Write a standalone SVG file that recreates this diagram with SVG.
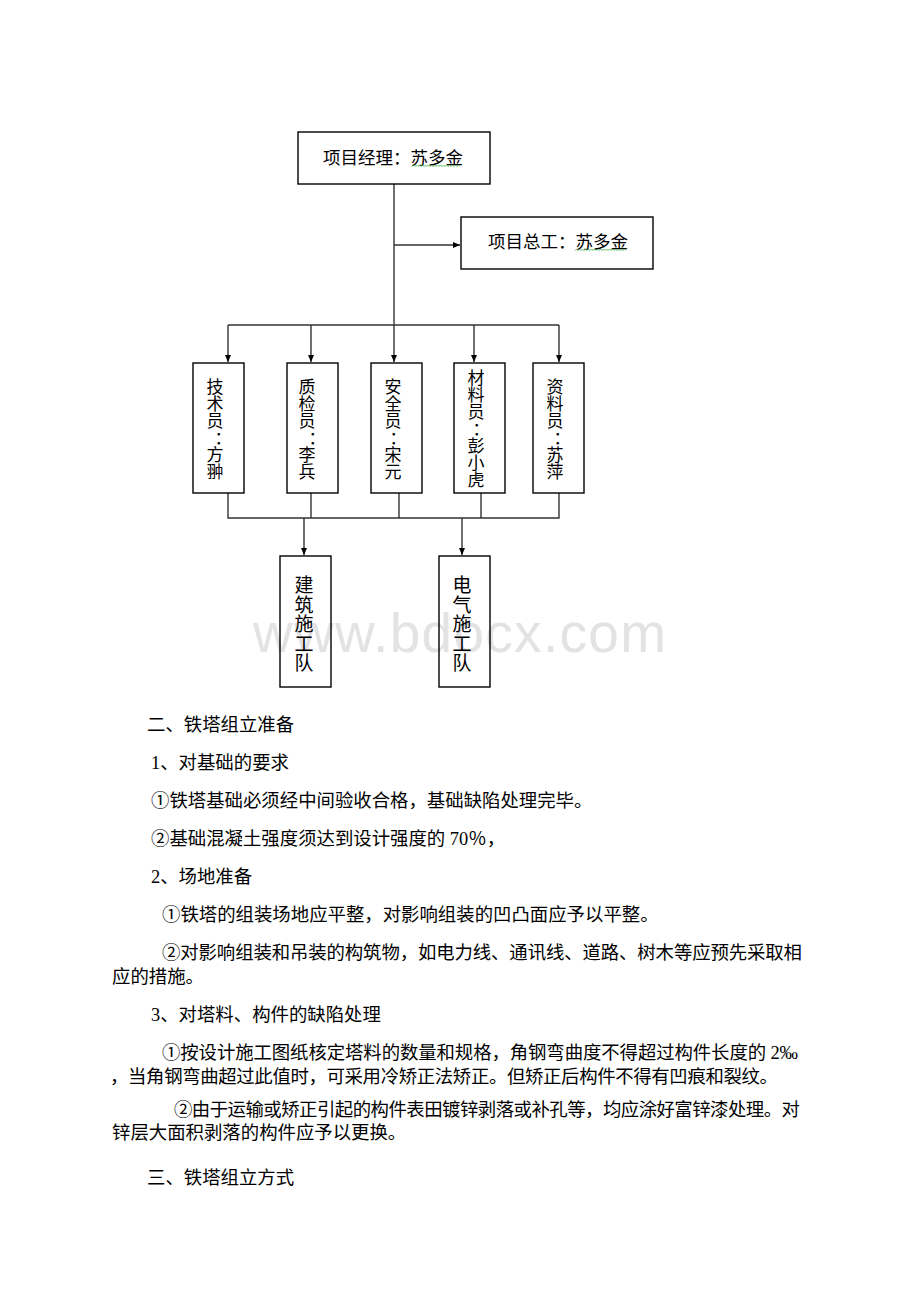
<svg xmlns="http://www.w3.org/2000/svg" width="920" height="1302" viewBox="0 0 920 1302">
  <style>
    .box { fill: none; stroke: #000; stroke-width: 1.4; }
    .lbl { font-family: "Noto Sans CJK SC", "Liberation Sans", sans-serif; fill: #000; }
    .h { font-size: 17.5px; text-anchor: middle; }
    .v { font-size: 17px; text-anchor: middle; }
    .vt { font-size: 19px; text-anchor: middle; }
    .conn { fill: none; stroke: #333; stroke-width: 1.4; }
    .body { font-family: "Liberation Serif", "Noto Sans CJK SC", serif; font-size: 18.4px; fill: #000; }
    .sq { fill: none; stroke: #5cb85c; stroke-width: 1; }
    .wm { font-family: "Liberation Sans", Arial, sans-serif; font-size: 55px; fill: #e3e3e3; }
  </style>
  <defs>
    <marker id="arr" markerUnits="userSpaceOnUse" markerWidth="7" markerHeight="6" refX="7" refY="3" orient="auto">
      <path d="M0,0 L7,3 L0,6 z" fill="#000"/>
    </marker>
  </defs>

  <rect width="920" height="1302" fill="#fff"/>

  <text class="wm" x="253" y="652" textLength="413" lengthAdjust="spacing">www.bdocx.com</text>

  <g id="connectors">
    <path class="conn" d="M394,184 V362" marker-end="url(#arr)"/>
    <path class="conn" d="M394,245 H460" marker-end="url(#arr)"/>
    <path class="conn" d="M228,325 H559"/>
    <path class="conn" d="M228,325 V362" marker-end="url(#arr)"/>
    <path class="conn" d="M311,325 V362" marker-end="url(#arr)"/>
    <path class="conn" d="M474,325 V362" marker-end="url(#arr)"/>
    <path class="conn" d="M559,325 V362" marker-end="url(#arr)"/>
    <path class="conn" d="M228,493 V518 H559 V493"/>
    <path class="conn" d="M311,493 V518"/>
    <path class="conn" d="M399,493 V518"/>
    <path class="conn" d="M481,493 V518"/>
    <path class="conn" d="M304,518 V555" marker-end="url(#arr)"/>
    <path class="conn" d="M462,518 V555" marker-end="url(#arr)"/>
  </g>

  <g id="manager">
    <rect class="box" x="298" y="132" width="192" height="52"/>
    <text class="lbl h" x="393" y="164">项目经理：苏多金</text>
    <path class="sq" d="M412,166.5 l1.5,-1.5 l1.5,1.5 l1.5,-1.5 l1.5,1.5 l1.5,-1.5 l1.5,1.5 l1.5,-1.5 l1.5,1.5 l1.5,-1.5 l1.5,1.5 l1.5,-1.5 l1.5,1.5 l1.5,-1.5 l1.5,1.5 l1.5,-1.5 l1.5,1.5 l1.5,-1.5 l1.5,1.5 l1.5,-1.5 l1.5,1.5 l1.5,-1.5 l1.5,1.5 l1.5,-1.5 l1.5,1.5 l1.5,-1.5 l1.5,1.5 l1.5,-1.5 l1.5,1.5 l1.5,-1.5 l1.5,1.5 l1.5,-1.5 l1.5,1.5"/>
  </g>

  <g id="chief-engineer">
    <rect class="box" x="461" y="217" width="192" height="52"/>
    <text class="lbl h" x="558" y="248">项目总工：苏多金</text>
    <path class="sq" d="M575,250.5 l1.5,-1.5 l1.5,1.5 l1.5,-1.5 l1.5,1.5 l1.5,-1.5 l1.5,1.5 l1.5,-1.5 l1.5,1.5 l1.5,-1.5 l1.5,1.5 l1.5,-1.5 l1.5,1.5 l1.5,-1.5 l1.5,1.5 l1.5,-1.5 l1.5,1.5 l1.5,-1.5 l1.5,1.5 l1.5,-1.5 l1.5,1.5 l1.5,-1.5 l1.5,1.5 l1.5,-1.5 l1.5,1.5 l1.5,-1.5 l1.5,1.5 l1.5,-1.5 l1.5,1.5 l1.5,-1.5 l1.5,1.5 l1.5,-1.5 l1.5,1.5 l1.5,-1.5 l1.5,1.5"/>
  </g>

  <g id="technician">
    <rect class="box" x="193" y="363" width="51" height="130"/>
    <text class="lbl v"><tspan x="215" y="393">技</tspan><tspan x="215" y="410">术</tspan><tspan x="215" y="427">员</tspan><tspan x="223" y="444">：</tspan><tspan x="215" y="461">方</tspan><tspan x="215" y="478">翀</tspan></text>
  </g>

  <g id="inspector">
    <rect class="box" x="287" y="363" width="51" height="130"/>
    <text class="lbl v"><tspan x="307" y="393">质</tspan><tspan x="307" y="410">检</tspan><tspan x="307" y="427">员</tspan><tspan x="317" y="444">：</tspan><tspan x="307" y="461">李</tspan><tspan x="307" y="478">兵</tspan></text>
  </g>

  <g id="safety">
    <rect class="box" x="371" y="363" width="51" height="130"/>
    <text class="lbl v"><tspan x="393" y="393">安</tspan><tspan x="393" y="410">全</tspan><tspan x="393" y="427">员</tspan><tspan x="398" y="444">：</tspan><tspan x="393" y="461">宋</tspan><tspan x="393" y="478">元</tspan></text>
  </g>

  <g id="materials">
    <rect class="box" x="454" y="363" width="51" height="130"/>
    <text class="lbl v"><tspan x="476" y="384">材</tspan><tspan x="476" y="401">料</tspan><tspan x="476" y="418">员</tspan><tspan x="481" y="435">：</tspan><tspan x="476" y="452">彭</tspan><tspan x="476" y="469">小</tspan><tspan x="476" y="486">虎</tspan></text>
  </g>

  <g id="documents">
    <rect class="box" x="533" y="363" width="51" height="130"/>
    <text class="lbl v"><tspan x="555" y="393">资</tspan><tspan x="555" y="410">料</tspan><tspan x="555" y="427">员</tspan><tspan x="562" y="444">：</tspan><tspan x="555" y="461">苏</tspan><tspan x="555" y="478">萍</tspan></text>
  </g>

  <g id="civil-team">
    <rect class="box" x="280" y="556" width="51" height="131"/>
    <text class="lbl vt"><tspan x="304" y="592">建</tspan><tspan x="304" y="611.5">筑</tspan><tspan x="304" y="631">施</tspan><tspan x="304" y="650.5">工</tspan><tspan x="304" y="670">队</tspan></text>
  </g>

  <g id="electrical-team">
    <rect class="box" x="439" y="556" width="51" height="131"/>
    <text class="lbl vt"><tspan x="462" y="592">电</tspan><tspan x="462" y="611.5">气</tspan><tspan x="462" y="631">施</tspan><tspan x="462" y="650.5">工</tspan><tspan x="462" y="670">队</tspan></text>
  </g>

  <g id="body-text" class="body">
    <text x="147" y="731">二、铁塔组立准备</text>
    <text x="151" y="769">1、对基础的要求</text>
    <text x="151" y="807">①铁塔基础必须经中间验收合格，基础缺陷处理完毕。</text>
    <text x="151" y="845">②基础混凝土强度须达到设计强度的 70％，</text>
    <text x="151" y="883">2、场地准备</text>
    <text x="162" y="921">①铁塔的组装场地应平整，对影响组装的凹凸面应予以平整。</text>
    <text x="162" y="959" textLength="640" lengthAdjust="spacing">②对影响组装和吊装的构筑物，如电力线、通讯线、道路、树木等应预先采取相</text>
    <text x="112" y="983">应的措施。</text>
    <text x="151" y="1021">3、对塔料、构件的缺陷处理</text>
    <text x="162" y="1059" textLength="636" lengthAdjust="spacing">①按设计施工图纸核定塔料的数量和规格，角钢弯曲度不得超过构件长度的 2‰</text>
    <text x="110" y="1083" textLength="668" lengthAdjust="spacing">，当角钢弯曲超过此值时，可采用冷矫正法矫正。但矫正后构件不得有凹痕和裂纹。</text>
    <text x="174" y="1116" textLength="626" lengthAdjust="spacing">②由于运输或矫正引起的构件表田镀锌剥落或补孔等，均应涂好富锌漆处理。对</text>
    <text x="112" y="1139">锌层大面积剥落的构件应予以更换。</text>
    <text x="147" y="1184">三、铁塔组立方式</text>
  </g>
</svg>
